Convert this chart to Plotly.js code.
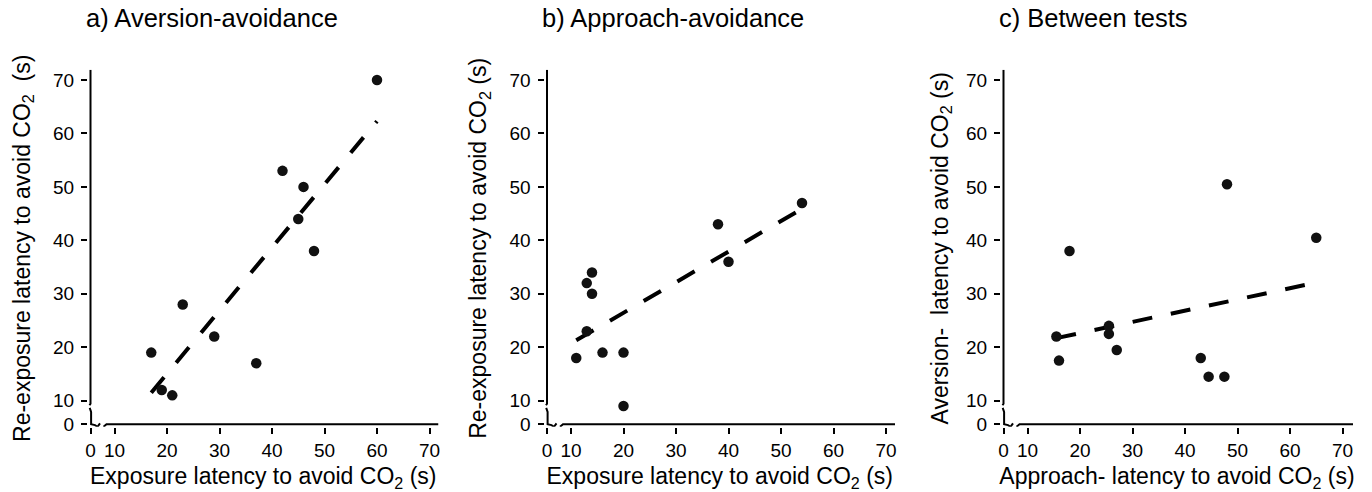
<!DOCTYPE html>
<html>
<head>
<meta charset="utf-8">
<script src="https://cdn.plot.ly/plotly-3.0.1.min.js"></script>
<style>
  html, body { margin: 0; padding: 0; background: #fff; }
  #chart { width: 1372px; height: 492px; }
</style>
</head>
<body>
<div id="chart"></div>
<script>
// ---------------- data ----------------
const panelTitles = ["a) Aversion-avoidance", "b) Approach-avoidance", "c) Between tests"];

const xTitles = [
  "Exposure latency to avoid CO<sub>2</sub> (s)",
  "Exposure latency to avoid CO<sub>2</sub> (s)",
  "Approach- latency to avoid CO<sub>2</sub> (s)"
];
const yTitles = [
  "Re-exposure latency to avoid CO<sub>2</sub>  (s)",
  "Re-exposure latency to avoid CO<sub>2</sub> (s)",
  "Aversion-  latency to avoid CO<sub>2</sub> (s)"
];

const tickLabels = ["0", "10", "20", "30", "40", "50", "60", "70"];
const tickNumbers = [10, 20, 30, 40, 50, 60, 70];

// a) Aversion-avoidance
const aversionX = [17, 19, 21, 23, 29, 37, 42, 45, 46, 48, 60];
const aversionY = [19, 12, 11, 28, 22, 17, 53, 44, 50, 38, 70];
const trendAX = [17, 60];
const trendAY = [11.5, 62.3];

// b) Approach-avoidance
const approachX = [11, 13, 13, 14, 14, 16, 20, 20, 38, 40, 54];
const approachY = [18, 32, 23, 34, 30, 19, 19, 9, 43, 36, 47];
const trendBX = [11, 54];
const trendBY = [21.3, 45.9];

// c) Between tests
const betweenX = [15.5, 16, 18, 25.5, 25.5, 27, 43, 44.5, 47.5, 48, 65];
const betweenY = [22, 17.5, 38, 24, 22.5, 19.5, 18, 14.5, 14.5, 50.5, 40.5];
const trendCX = [15.5, 65];
const trendCY = [21.7, 32.1];

// ---------------- geometry / styling ----------------
const W = 1372, H = 492;
const pxX = 5.25, pxY = 5.345;          // pixels per data unit
const ZX = 10 - 24 / pxX;               // broken-axis position of "0" (x)
const ZY = 10 - 23.6 / pxY;             // broken-axis position of "0" (y)
const axisLeftPx = [90.5, 547, 1003.5];
const axisRightPx = [438.5, 895, 1353];
const yTopPx = 69.8, yBotPx = 424.3;
const GAP = 2.5;                        // gap between axis line and ticks
const FONT = "Arial, 'Liberation Sans', sans-serif";
const INK = "#000";

const ptsX = [aversionX, approachX, betweenX];
const ptsY = [aversionY, approachY, betweenY];
const trX = [trendAX, trendBX, trendCX];
const trY = [trendAY, trendBY, trendCY];
const yStandoff = [16, 16, 11];

const traces = [];
const layout = {
  width: W, height: H,
  margin: {l: 0, r: 0, t: 0, b: 0},
  paper_bgcolor: "#fff", plot_bgcolor: "rgba(0,0,0,0)",
  showlegend: false,
  font: {family: FONT, color: INK, size: 19},
  shapes: [], annotations: []
};

for (let i = 0; i < 3; i++) {
  const sfx = i === 0 ? "" : String(i + 1);
  const xa = "x" + sfx, ya = "y" + sfx;

  traces.push({
    x: trX[i], y: trY[i], xaxis: xa, yaxis: ya,
    mode: "lines", type: "scatter", hoverinfo: "skip",
    line: {color: INK, width: 4, dash: "20px,19px"}
  });
  traces.push({
    x: ptsX[i], y: ptsY[i], xaxis: xa, yaxis: ya,
    mode: "markers", type: "scatter",
    marker: {color: "#111", size: 10.5, line: {width: 0}}
  });

  const tickVals = [ZX].concat(tickNumbers);
  const tickValsY = [ZY].concat(tickNumbers);

  layout["xaxis" + sfx] = {
    domain: [(axisLeftPx[i] - GAP) / W, axisRightPx[i] / W],
    range: [ZX - GAP / pxX, ZX + (axisRightPx[i] - axisLeftPx[i]) / pxX],
    anchor: ya, showgrid: false, zeroline: false, showline: false,
    ticks: "outside", ticklen: 6, tickwidth: 2, tickcolor: INK,
    tickmode: "array", tickvals: tickVals, ticktext: tickLabels,
    tickfont: {size: 19, color: INK, family: FONT},
    title: {text: xTitles[i], font: {size: 23, color: INK, family: FONT}, standoff: 9},
    fixedrange: true
  };
  layout["yaxis" + sfx] = {
    domain: [(H - yBotPx - GAP) / H, (H - yTopPx) / H],
    range: [ZY - GAP / pxY, ZY + (yBotPx - yTopPx) / pxY],
    anchor: xa, showgrid: false, zeroline: false, showline: false,
    ticks: "outside", ticklen: 6, tickwidth: 2, tickcolor: INK,
    tickmode: "array", tickvals: tickValsY, ticktext: tickLabels,
    tickfont: {size: 19, color: INK, family: FONT},
    ticklabelstandoff: 3,
    title: {text: yTitles[i], font: {size: 23, color: INK, family: FONT}, standoff: yStandoff[i]},
    fixedrange: true
  };

  // axis lines with break marks (pixel offsets from the origin, y down)
  const P = pts => "M " + pts.map(p => (ZX + p[0] / pxX) + "," + (ZY - p[1] / pxY)).join(" L ");
  const lineStyle = {color: INK, width: 2};
  const len = axisRightPx[i] - axisLeftPx[i];
  layout.shapes.push(
    {type: "path", xref: xa, yref: ya, line: lineStyle,
     path: P([[0, -(yBotPx - yTopPx)], [0, -20.5], [-1, -19]])},
    {type: "path", xref: xa, yref: ya, line: lineStyle,
     path: P([[-0.8, -16.5], [0.6, -12.5], [0.6, 0], [4.5, 0.8], [7, 2.5], [9.5, -1]])},
    {type: "path", xref: xa, yref: ya, line: lineStyle,
     path: P([[13, 2.5], [16, 0], [len, 0]])}
  );

  layout.annotations.push({
    text: panelTitles[i], xref: "paper", yref: "paper",
    x: (axisLeftPx[i] - 7) / W, y: 1, xanchor: "left", yanchor: "top",
    yshift: -2, showarrow: false,
    font: {size: 25.5, color: INK, family: FONT}
  });
}

Plotly.newPlot("chart", traces, layout, {displayModeBar: false, staticPlot: true});
</script>
</body>
</html>
